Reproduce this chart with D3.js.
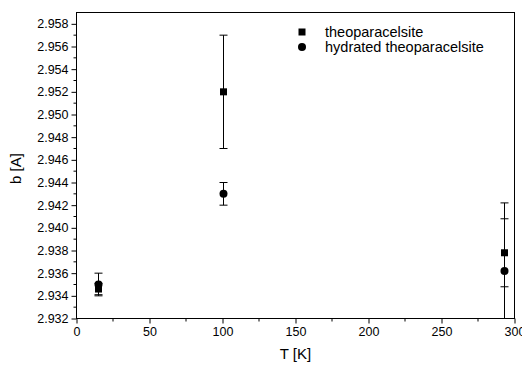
<!DOCTYPE html>
<html><head><meta charset="utf-8">
<script src="https://cdn.jsdelivr.net/npm/d3@7"></script>
<style>body{margin:0;background:#fff}text{font-family:"Liberation Sans",Arial,sans-serif}</style>
</head><body><svg id="c" width="522" height="365"></svg>
<script>
const temps = [15, 100, 293];
const theoB = [2.9346, 2.952, 2.9378];
const theoErr = [0.0005, 0.005, 0.003];
const hydB = [2.935, 2.943, 2.9362];
const hydErr = [0.001, 0.001, 0.006];
const xTicks = [0, 50, 100, 150, 200, 250, 300];
const yTicks = [2.932, 2.934, 2.936, 2.938, 2.940, 2.942, 2.944, 2.946, 2.948, 2.950, 2.952, 2.954, 2.956, 2.958];
const seriesNames = ["theoparacelsite", "hydrated theoparacelsite"];

const svg = d3.select("#c");
const L = 76.5, R = 514.5, T = 12.5, B = 318.5;
const x = d3.scaleLinear().domain([0, 300]).range([L, R]);
const y = d3.scaleLinear().domain([2.932, 2.959]).range([B, T]);

const defs = svg.append("defs");
defs.append("clipPath").attr("id", "clip").append("rect")
  .attr("x", L).attr("y", T).attr("width", R - L).attr("height", B - T);

// frame
svg.append("rect").attr("x", L).attr("y", T).attr("width", R - L).attr("height", B - T)
  .attr("fill", "none").attr("stroke", "#000").attr("stroke-width", 1);

// x axis
const xAx = svg.append("g").attr("transform", `translate(0,${B})`)
  .call(d3.axisBottom(x).tickValues(xTicks).tickSize(5).tickPadding(4).tickFormat(d3.format("d")));
xAx.append("g").selectAll("line").data(d3.range(25, 300, 50)).join("line")
  .attr("x1", d => x(d)).attr("x2", d => x(d)).attr("y1", 0).attr("y2", 3).attr("stroke", "#000");
// y axis
const yAx = svg.append("g").attr("transform", `translate(${L},0)`)
  .call(d3.axisLeft(y).tickValues(yTicks).tickSize(5).tickPadding(3).tickFormat(d3.format(".3f")));
yAx.append("g").selectAll("line").data(d3.range(13).map(i => 2.933 + i * 0.002)).join("line")
  .attr("y1", d => y(d)).attr("y2", d => y(d)).attr("x1", 0).attr("x2", -3).attr("stroke", "#000");
[xAx, yAx].forEach(a => {
  a.select(".domain").remove();
  a.selectAll("text").attr("font-size", 12.5).attr("fill", "#000").style("font-family", "Liberation Sans, Arial, sans-serif");
  a.selectAll("line").attr("stroke", "#000");
});

// axis titles
svg.append("text").attr("x", x(150)).attr("y", 359).attr("text-anchor", "middle")
  .attr("font-size", 15).text("T [K]");
svg.append("text").attr("transform", `translate(21,${(T + B) / 2 + 3}) rotate(-90)`)
  .attr("text-anchor", "middle").attr("font-size", 15).text("b [A]");

const plot = svg.append("g").attr("clip-path", "url(#clip)");
function errorBars(vals, errs) {
  const g = plot.append("g").attr("stroke", "#000").attr("stroke-width", 1);
  temps.forEach((t, i) => {
    const cx = Math.round(x(t)) + 0.5;
    g.append("line").attr("x1", cx).attr("x2", cx).attr("y1", y(vals[i] - errs[i])).attr("y2", y(vals[i] + errs[i]));
    [vals[i] - errs[i], vals[i] + errs[i]].forEach(v => {
      g.append("line").attr("x1", cx - 4).attr("x2", cx + 4).attr("y1", y(v)).attr("y2", y(v));
    });
  });
}
errorBars(theoB, theoErr);
errorBars(hydB, hydErr);

plot.append("g").selectAll("rect").data(temps).join("rect")
  .attr("x", (d) => Math.round(x(d)) + 0.5 - 3.5).attr("y", (d, i) => y(theoB[i]) - 3.5)
  .attr("width", 7).attr("height", 7).attr("fill", "#000");
plot.append("g").selectAll("circle").data(temps).join("circle")
  .attr("cx", d => Math.round(x(d)) + 0.5).attr("cy", (d, i) => y(hydB[i])).attr("r", 4).attr("fill", "#000");

// legend
const lg = svg.append("g");
lg.append("rect").attr("x", 298.5).attr("y", 28.5).attr("width", 7).attr("height", 7).attr("fill", "#000");
lg.append("circle").attr("cx", 302).attr("cy", 47).attr("r", 4).attr("fill", "#000");
lg.selectAll("text").data(seriesNames).join("text")
  .attr("x", 325).attr("y", (d, i) => 37 + i * 15).attr("font-size", 14.5).text(d => d);
</script></body></html>
